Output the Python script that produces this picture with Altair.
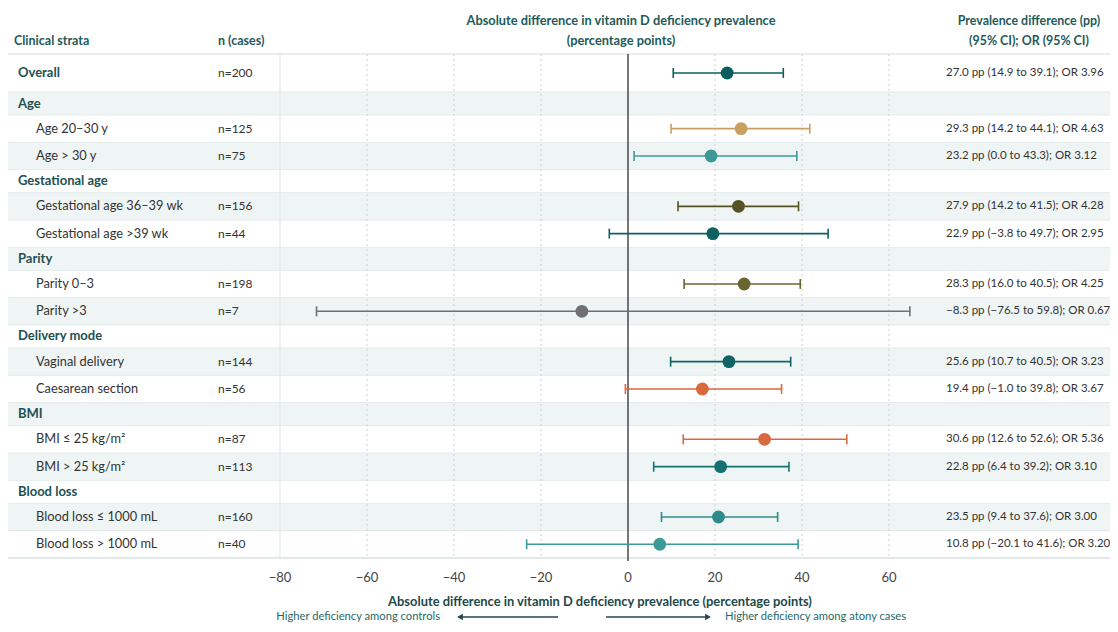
import altair as alt
import pandas as pd

# ---------------- data ----------------
labels = ["Overall", "Age", "Age 20–30 y", "Age > 30 y", "Gestational age",
          "Gestational age 36–39 wk", "Gestational age >39 wk", "Parity",
          "Parity 0–3", "Parity >3", "Delivery mode", "Vaginal delivery",
          "Caesarean section", "BMI", "BMI ≤ 25 kg/m²", "BMI > 25 kg/m²",
          "Blood loss", "Blood loss ≤ 1000 mL", "Blood loss > 1000 mL"]
kinds = ["overall", "header", "item", "item", "header", "item", "item", "header",
         "item", "item", "header", "item", "item", "header", "item", "item",
         "header", "item", "item"]
n_cases = ["n=200", "", "n=125", "n=75", "", "n=156", "n=44", "", "n=198", "n=7",
           "", "n=144", "n=56", "", "n=87", "n=113", "", "n=160", "n=40"]
est = [22.8, None, 26.0, 19.1, None, 25.4, 19.5, None, 26.7, -10.6, None,
       23.2, 17.1, None, 31.4, 21.3, None, 20.8, 7.3]
lo = [10.4, None, 9.9, 1.4, None, 11.5, -4.3, None, 12.9, -71.6, None,
      9.8, -0.6, None, 12.7, 5.9, None, 7.7, -23.3]
hi = [35.7, None, 41.8, 38.8, None, 39.2, 46.0, None, 39.6, 64.8, None,
      37.4, 35.3, None, 50.3, 37.0, None, 34.4, 39.1]
summary = ["27.0 pp (14.9 to 39.1); OR 3.96", "",
           "29.3 pp (14.2 to 44.1); OR 4.63", "23.2 pp (0.0 to 43.3); OR 3.12", "",
           "27.9 pp (14.2 to 41.5); OR 4.28", "22.9 pp (−3.8 to 49.7); OR 2.95", "",
           "28.3 pp (16.0 to 40.5); OR 4.25", "−8.3 pp (−76.5 to 59.8); OR 0.67", "",
           "25.6 pp (10.7 to 40.5); OR 3.23", "19.4 pp (−1.0 to 39.8); OR 3.67", "",
           "30.6 pp (12.6 to 52.6); OR 5.36", "22.8 pp (6.4 to 39.2); OR 3.10", "",
           "23.5 pp (9.4 to 37.6); OR 3.00", "10.8 pp (−20.1 to 41.6); OR 3.20"]
colors = ["#0c5e5e", "", "#c9a062", "#3f9898", "", "#575224", "#0e6161", "",
          "#6a6430", "#707070", "", "#106464", "#d9683c", "", "#d96a3f", "#137070",
          "", "#2f8b8b", "#3b9a9a"]

tick_values = [-80, -60, -40, -20, 0, 20, 40, 60]
grid_values = [-60, -40, -20, 20, 40, 60]

# ---------------- layout (computed) ----------------
FONT = "Lato"
W = 1102
ROW_H = {"overall": 38, "header": 23, "item": 27.33}
y0s, y1s = [], []
acc = 0.0
for k in kinds:
    y0s.append(acc)
    acc += ROW_H[k]
    y1s.append(acc)
PLOT_H = round(acc)

df = pd.DataFrame({
    "idx": list(range(len(labels))), "label": labels, "kind": kinds, "n": n_cases,
    "est": est, "lo": lo, "hi": hi, "summary": summary, "color": colors,
    "y0": y0s, "y1": y1s,
})
df["ymid"] = (df["y0"] + df["y1"]) / 2
pts = df.dropna(subset=["est"]).copy()

PX = 4.35
ZERO = 620
xscale = alt.Scale(domain=[-ZERO / PX, (W - ZERO) / PX], nice=False, zero=False)
yscale = alt.Scale(domain=[0, PLOT_H], reverse=True, nice=False, zero=False)

one = alt.InlineData(values=[{"k": 0}])
base = alt.Chart(df)

stripes = base.transform_filter("datum.idx % 2 == 1").mark_rect(color="#eff5f5").encode(
    x=alt.value(0), x2=alt.value(W),
    y=alt.Y("y0:Q", scale=yscale, axis=None), y2="y1:Q")

seps = base.mark_rule(color="#e3eaea", strokeWidth=1).encode(
    x=alt.value(0), x2=alt.value(W), y=alt.Y("y1:Q", scale=yscale, axis=None))

topline = alt.Chart(one).mark_rule(color="#d3dbdb", strokeWidth=1.2).encode(
    x=alt.value(0), x2=alt.value(W), y=alt.value(0))

grid = alt.Chart(pd.DataFrame({"g": grid_values})).mark_rule(
    color="#c9d1d1", strokeDash=[2, 3], strokeWidth=1).encode(
    x=alt.X("g:Q", scale=xscale, axis=None), y=alt.value(0), y2=alt.value(PLOT_H))

leftb = alt.Chart(pd.DataFrame({"g": [tick_values[0]]})).mark_rule(
    color="#dfe5e5", strokeWidth=1).encode(
    x=alt.X("g:Q", scale=xscale, axis=None), y=alt.value(0), y2=alt.value(PLOT_H))

zero = alt.Chart(pd.DataFrame({"g": [0]})).mark_rule(
    color="#3a3d3f", strokeWidth=1.4).encode(
    x=alt.X("g:Q", scale=xscale, axis=None), y=alt.value(0), y2=alt.value(PLOT_H + 3))

ticklabels = alt.Chart(pd.DataFrame({"t": tick_values})).mark_text(
    baseline="middle", align="center", font=FONT, fontSize=13, color="#444").encode(
    x=alt.X("t:Q", scale=xscale, axis=None), y=alt.value(PLOT_H + 20),
    text=alt.Text("t:Q", format="d"))

pbase = alt.Chart(pts)
ci = pbase.mark_rule(strokeWidth=1.6).encode(
    x=alt.X("lo:Q", scale=xscale, axis=None),
    x2="hi:Q",
    y=alt.Y("ymid:Q", scale=yscale, axis=None),
    color=alt.Color("color:N", scale=None))

capbase = pbase.transform_calculate(ct="datum.ymid - 5", cb="datum.ymid + 5")
cap_lo = capbase.mark_rule(strokeWidth=1.6).encode(
    x=alt.X("lo:Q", scale=xscale, axis=None),
    y=alt.Y("ct:Q", scale=yscale, axis=None), y2="cb:Q",
    color=alt.Color("color:N", scale=None))
cap_hi = capbase.mark_rule(strokeWidth=1.6).encode(
    x=alt.X("hi:Q", scale=xscale, axis=None),
    y=alt.Y("ct:Q", scale=yscale, axis=None), y2="cb:Q",
    color=alt.Color("color:N", scale=None))

dots = pbase.mark_circle(size=165, opacity=1).encode(
    x=alt.X("est:Q", scale=xscale, axis=None),
    y=alt.Y("ymid:Q", scale=yscale, axis=None),
    color=alt.Color("color:N", scale=None))

lab_bold = base.transform_filter("datum.kind != 'item'").mark_text(
    align="left", baseline="middle", font=FONT, fontSize=13, fontWeight="bold",
    color="#1e5151").encode(
    x=alt.value(10), y=alt.Y("ymid:Q", scale=yscale, axis=None), text="label:N")
lab_item = base.transform_filter("datum.kind == 'item'").mark_text(
    align="left", baseline="middle", font=FONT, fontSize=12.8, color="#333").encode(
    x=alt.value(28), y=alt.Y("ymid:Q", scale=yscale, axis=None), text="label:N")
ntext = base.mark_text(align="left", baseline="middle", font=FONT, fontSize=12,
                       color="#333").encode(
    x=alt.value(210), y=alt.Y("ymid:Q", scale=yscale, axis=None), text="n:N")
stext = base.mark_text(align="left", baseline="middle", font=FONT, fontSize=11.5,
                       color="#333").encode(
    x=alt.value(938), y=alt.Y("ymid:Q", scale=yscale, axis=None), text="summary:N")


def label(txt, x, y, align="left", size=12.5, weight="bold", color="#1e5a5a"):
    return alt.Chart(one).mark_text(align=align, baseline="middle", font=FONT,
                                    fontSize=size, fontWeight=weight, color=color).encode(
        x=alt.value(x), y=alt.value(y), text=alt.value(txt))


headers = [
    label("Clinical strata", 6, -13),
    label("n (cases)", 210, -13),
    label("Absolute difference in vitamin D deficiency prevalence", 613, -33, "center", 12.8),
    label("(percentage points)", 613, -13, "center", 12.8),
    label("Prevalence difference (pp)", 1021, -33, "center", 12.4),
    label("(95% CI); OR (95% CI)", 1021, -13, "center", 12.4),
    label("Absolute difference in vitamin D deficiency prevalence (percentage points)",
          592, 548, "center", 12.9, "bold", "#1d4848"),
    label("Higher deficiency among controls", 432, 563, "right", 11.2, "normal", "#1f6a6a"),
    label("Higher deficiency among atony cases", 717, 563, "left", 11.2, "normal", "#1f6a6a"),
]

ARROW_C = "#23464f"
arrows = [
    alt.Chart(one).mark_rule(color=ARROW_C, strokeWidth=1.3).encode(
        x=alt.value(452), x2=alt.value(550), y=alt.value(563)),
    alt.Chart(one).mark_point(shape="triangle-left", filled=True, size=45,
                              color=ARROW_C, opacity=1).encode(
        x=alt.value(452), y=alt.value(563)),
    alt.Chart(one).mark_rule(color=ARROW_C, strokeWidth=1.3).encode(
        x=alt.value(598), x2=alt.value(700), y=alt.value(563)),
    alt.Chart(one).mark_point(shape="triangle-right", filled=True, size=45,
                              color=ARROW_C, opacity=1).encode(
        x=alt.value(700), y=alt.value(563)),
]

bottomline = alt.Chart(one).mark_rule(color="#d3dbdb", strokeWidth=1.2).encode(
    x=alt.value(0), x2=alt.value(W), y=alt.value(PLOT_H))

chart = alt.layer(
    stripes, seps, topline, bottomline, grid, leftb, zero, ticklabels, ci, cap_lo,
    cap_hi, dots, lab_bold, lab_item, ntext, stext, *headers, *arrows
).properties(
    width=W, height=PLOT_H,
    autosize=alt.AutoSizeParams(type="none"),
    padding={"left": 0, "top": 46, "right": 0, "bottom": 66},
    background="white",
).configure_view(stroke=None)

chart.save("out.html", embed_options={"renderer": "svg", "actions": False})
